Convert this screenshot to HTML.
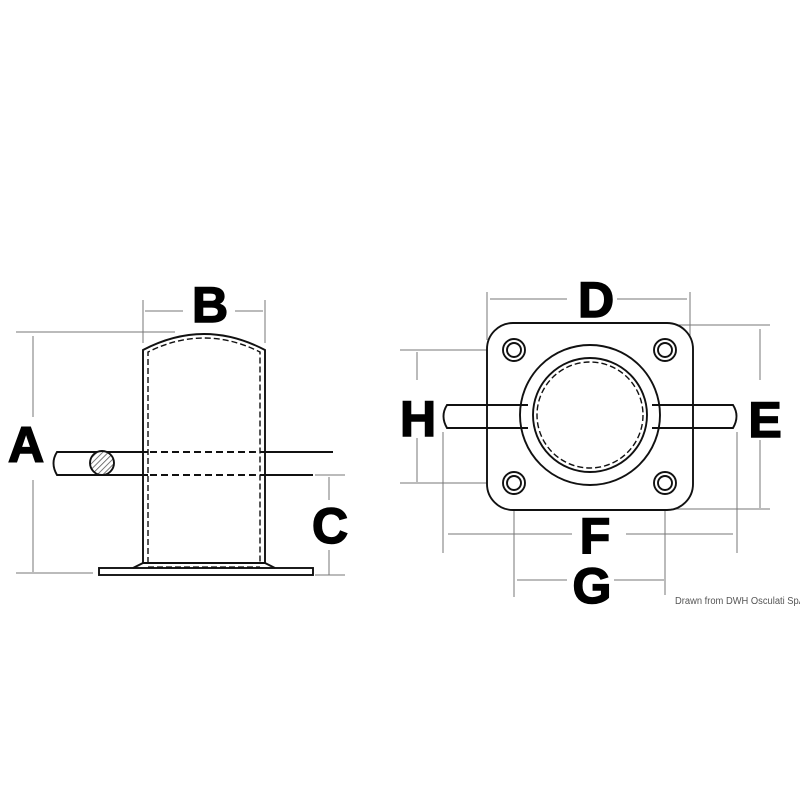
<!DOCTYPE html>
<html><head><meta charset="utf-8"><style>html,body{margin:0;padding:0;background:#fff}svg{display:block}</style></head>
<body>
<svg width="800" height="800" viewBox="0 0 800 800" xmlns="http://www.w3.org/2000/svg">
<defs>
<pattern id="h" width="4" height="4" patternUnits="userSpaceOnUse" patternTransform="rotate(45)">
<rect width="4" height="4" fill="#fff"/><line x1="0" y1="0" x2="0" y2="4" stroke="#555" stroke-width="1.6"/></pattern>
</defs>
<rect width="800" height="800" fill="#fff"/>
<g fill="none" stroke="#777" stroke-width="1">
<line x1="16" y1="332" x2="175" y2="332"/>
<line x1="33" y1="336" x2="33" y2="417"/><line x1="33" y1="480" x2="33" y2="572"/>
<line x1="16" y1="573" x2="93" y2="573"/>
<line x1="143" y1="300" x2="143" y2="343"/><line x1="265" y1="300" x2="265" y2="343"/>
<line x1="145" y1="311" x2="183" y2="311"/><line x1="235" y1="311" x2="263" y2="311"/>
<line x1="315" y1="475" x2="345" y2="475"/><line x1="315" y1="575" x2="345" y2="575"/>
<line x1="329" y1="477" x2="329" y2="500"/><line x1="329" y1="550" x2="329" y2="575"/>
<line x1="487" y1="292" x2="487" y2="340"/><line x1="690" y1="292" x2="690" y2="340"/>
<line x1="490" y1="299" x2="567" y2="299"/><line x1="617" y1="299" x2="687" y2="299"/>
<line x1="673" y1="325" x2="770" y2="325"/><line x1="673" y1="509" x2="770" y2="509"/>
<line x1="760" y1="329" x2="760" y2="380"/><line x1="760" y1="440" x2="760" y2="508"/>
<line x1="400" y1="350" x2="505" y2="350"/><line x1="400" y1="483" x2="505" y2="483"/>
<line x1="417" y1="352" x2="417" y2="380"/><line x1="417" y1="438" x2="417" y2="482"/>
<line x1="443" y1="432" x2="443" y2="553"/><line x1="737" y1="432" x2="737" y2="553"/>
<line x1="448" y1="534" x2="572" y2="534"/><line x1="626" y1="534" x2="733" y2="534"/>
<line x1="514" y1="488" x2="514" y2="597"/><line x1="665" y1="488" x2="665" y2="595"/>
<line x1="517" y1="580" x2="567" y2="580"/><line x1="614" y1="580" x2="664" y2="580"/>
</g>
<g fill="none" stroke="#111" stroke-width="1.9">
<path d="M143 563 L143 350 Q204 318 265 350 L265 563"/>
<path d="M148 563 L148 352 Q204 324 260 352 L260 563" stroke-dasharray="6 3" stroke-width="1.4"/>
<rect x="99" y="568" width="214" height="7" fill="#fff"/>
<path d="M133 568 L143 563 L265 563 L275 568"/>
<line x1="148" y1="567" x2="260" y2="567" stroke-dasharray="6 3" stroke-width="1.3"/>
<path d="M148 452 L57 452 Q50 463 57 475 L148 475"/>
<line x1="260" y1="452" x2="333" y2="452"/><line x1="260" y1="475" x2="313" y2="475"/>
<line x1="150" y1="452" x2="258" y2="452" stroke-dasharray="7 4"/>
<line x1="150" y1="475" x2="258" y2="475" stroke-dasharray="7 4"/>
<circle cx="102" cy="463" r="12" fill="url(#h)"/>
<rect x="487" y="323" width="206" height="187" rx="26" fill="#fff"/>
<circle cx="514" cy="350" r="11"/><circle cx="514" cy="350" r="7"/>
<circle cx="665" cy="350" r="11"/><circle cx="665" cy="350" r="7"/>
<circle cx="514" cy="483" r="11"/><circle cx="514" cy="483" r="7"/>
<circle cx="665" cy="483" r="11"/><circle cx="665" cy="483" r="7"/>
<circle cx="590" cy="415" r="70" fill="#fff"/>
<path d="M528 405 L447 405 Q440 416 447 428 L528 428"/>
<path d="M652 405 L733 405 Q740 416 733 428 L652 428"/>
<circle cx="590" cy="415" r="57" fill="#fff"/>
<circle cx="590" cy="415" r="53" stroke-dasharray="6 3" stroke-width="1.4"/>
</g>
<g font-family="Liberation Sans, sans-serif" font-weight="bold" font-size="50" fill="#000" stroke="#000" stroke-width="1.5" text-anchor="middle">
<text x="26" y="462">A</text>
<text x="210" y="322">B</text>
<text x="330" y="543">C</text>
<text x="596" y="317">D</text>
<text x="765" y="437">E</text>
<text x="418" y="436">H</text>
<text x="595" y="553">F</text>
<text x="592" y="603">G</text>
</g>
<text x="675" y="604" font-family="Liberation Sans, sans-serif" font-size="10" fill="#555" textLength="130" lengthAdjust="spacingAndGlyphs">Drawn from DWH Osculati SpA</text>
</svg>
</body></html>
